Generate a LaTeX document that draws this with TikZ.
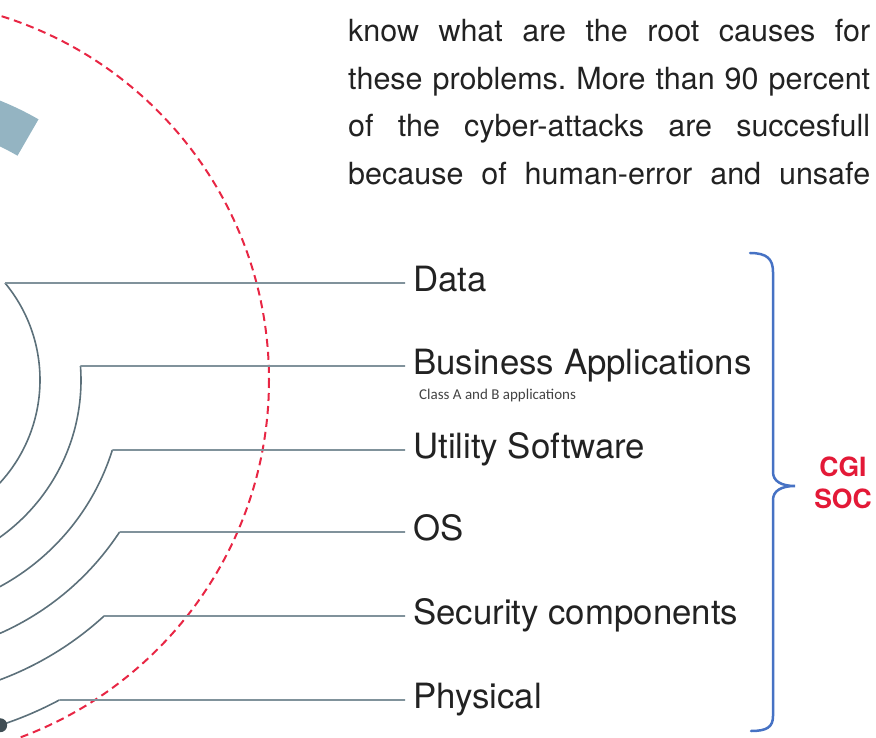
\documentclass[tikz,border=0pt]{standalone}
\usepackage{fontspec}
\setmainfont{TeX Gyre Heros}
\newfontfamily\notefont{Carlito}
\usetikzlibrary{positioning}
\frenchspacing

\definecolor{ringgray}{RGB}{92,112,122}
\definecolor{linegray}{RGB}{128,146,155}
\definecolor{ringblue}{RGB}{148,180,194}
\definecolor{dashred}{RGB}{232,38,68}
\definecolor{braceblue}{RGB}{70,114,196}
\definecolor{cgired}{RGB}{227,25,55}
\definecolor{inkgray}{RGB}{34,34,34}

\begin{document}
\begin{tikzpicture}[x=1pt, y=-1pt,
    layer/.style={anchor=west, inner xsep=8pt, inner ysep=0pt, text height=24pt, text depth=7pt, text=inkgray, font=\fontsize{34.8}{40}\selectfont},
    note/.style={anchor=base west, inner sep=0pt, text=inkgray!85, font=\notefont\fontsize{15}{18}\selectfont},
    body/.style={anchor=base west, inner sep=0pt, text=inkgray, font=\fontsize{30.5}{36}\selectfont},
    ring/.style={draw=ringgray, line width=1.6pt},
    tick/.style={draw=linegray, line width=1.6pt},
    guard/.style={draw=dashred, line width=2pt, dash pattern=on 8pt off 5pt},
    hub/.style={circle, fill=ringgray!70!black, inner sep=0pt, minimum size=14pt},
    brace/.style={draw=braceblue, line width=2.5pt, line cap=round},
    soc/.style={align=center, text=cgired, font=\bfseries\fontsize{26.5}{32}\selectfont}]
  \useasboundingbox (0,0) rectangle (876,738);
  \clip (0,0) rectangle (876,738);
  \coordinate (C) at (-112,380);

  \node[body] (line1) at (348,42) {\makebox[522pt][s]{know what are the root causes for}};
  \node[body] (line2) at (348,90) {\makebox[522pt][s]{these problems. More than 90 percent}};
  \node[body] (line3) at (348,137) {\makebox[522pt][s]{of the cyber-attacks are succesfull}};
  \node[body] (line4) at (348,185) {\makebox[522pt][s]{because of human-error and unsafe}};

  \fill[ringblue] (C) ++(-60:259) arc[start angle=-60, end angle=-95, radius=259]
    -- ++(-95:42) arc[start angle=-95, end angle=-60, radius=301] -- cycle;

  \draw[guard] (C) circle[radius=381];

  \node[layer] (data) at (405,283) {Data};
  \node[layer] (apps) at (405,366) {Business Applications};
  \node[note] (classes) at (419,399) {Class A and B applications};
  \node[layer] (util) at (405,450) {Utility Software};
  \node[layer] (os) at (405,532) {OS};
  \node[layer] (sec) at (405,616) {Security components};
  \node[layer] (phys) at (405,700) {Physical};

  \draw[ring] (C) ++(-39.65:152) coordinate (jdata) arc[start angle=-39.65, end angle=80, radius=152];
  \draw[ring] (C) ++(-4.16:193) coordinate (japps) arc[start angle=-4.16, end angle=80, radius=193];
  \draw[ring] (C) ++(17.33:235) coordinate (jutil) arc[start angle=17.33, end angle=80, radius=235];
  \draw[ring] (C) ++(33.28:277) coordinate (jos) arc[start angle=33.28, end angle=80, radius=277];
  \draw[ring] (C) ++(47.52:320) coordinate (jsec) arc[start angle=47.52, end angle=80, radius=320];
  \draw[ring] (C) ++(61.83:363) coordinate (jphys) arc[start angle=61.83, end angle=72, radius=363] node[hub] (core) {};

  \path[tick]
    (jdata) edge (data.west)
    (japps) edge (apps.west)
    (jutil) edge (util.west)
    (jos) edge (os.west)
    (jsec) edge (sec.west)
    (jphys) edge (phys.west);

  \draw[brace] (750,253) .. controls (767,253) and (773,259) .. (773,272) -- (773,472)
    .. controls (773,481) and (781,486) .. (795,486)
    .. controls (781,486) and (773,491) .. (773,500) -- (773,716)
    .. controls (773,727) and (767,731) .. (751,731);
  \node[soc] (soc) at (843,483) {CGI\\SOC};
\end{tikzpicture}
\end{document}
